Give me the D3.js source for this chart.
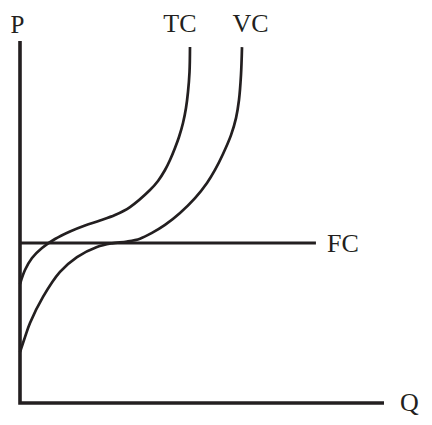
<!DOCTYPE html>
<html>
<head>
<meta charset="utf-8">
<script src="https://cdn.jsdelivr.net/npm/d3@7"></script>
<style>
  html, body { margin: 0; padding: 0; background: #fff; }
  svg { display: block; }
  text { font-family: "Liberation Serif", "DejaVu Serif", serif; fill: #231f20; }
</style>
</head>
<body>
<svg id="chart" width="432" height="425"></svg>
<script>
// ---- Data (quantity Q and price P in chart units, 0..100) ----
const TC_Q = [0, 1.37, 3.30, 6.04, 9.62, 13.74, 17.86, 21.98, 26.10, 30.22, 35.71, 37.91, 39.84, 41.21, 42.58, 43.68, 44.78, 45.60, 46.15, 46.57, 46.70];
const TC_P = [32.87, 36.74, 40.06, 42.82, 45.30, 47.38, 49.03, 50.41, 51.93, 54.14, 58.84, 61.33, 64.36, 67.13, 70.44, 73.48, 77.35, 81.49, 85.91, 91.44, 98.34];
const VC_Q = [0, 1.37, 2.75, 6.32, 10.99, 15.66, 21.15, 25.27, 29.40, 32.97, 36.26, 39.84, 43.96, 48.08, 51.37, 53.57, 55.77, 57.97, 59.34, 60.16, 60.71, 60.99];
const VC_P = [14.1, 18.2, 22.1, 29.3, 36.2, 40.3, 43.1, 44.1, 44.6, 45.4, 47.0, 49.2, 52.5, 56.6, 60.8, 64.4, 68.8, 74.0, 78.7, 83.7, 90.6, 98.3];
const FC_Q = [0, 81.3];
const FC_P = [44.2, 44.2];
const seriesNames = ["TC", "VC", "FC"];
const axisLabels = ["P", "Q"];

// ---- Layout ----
const ink = "#231f20";
const svg = d3.select("#chart");
const x = d3.scaleLinear().domain([0, 100]).range([20, 384]);
const y = d3.scaleLinear().domain([0, 100]).range([403, 41]);

const toPts = (qs, ps) => qs.map((q, i) => [q, ps[i]]);
const line = d3.line()
  .x(d => x(d[0]))
  .y(d => y(d[1]))
  .curve(d3.curveCatmullRom.alpha(0.5));

// Fixed cost line
svg.append("path")
  .attr("d", d3.line().x(d => x(d[0])).y(d => y(d[1]))(toPts(FC_Q, FC_P)))
  .attr("fill", "none").attr("stroke", ink).attr("stroke-width", 3);

// TC and VC curves
[toPts(TC_Q, TC_P), toPts(VC_Q, VC_P)].forEach(pts => {
  svg.append("path")
    .attr("d", line(pts))
    .attr("fill", "none")
    .attr("stroke", ink)
    .attr("stroke-width", 2.7)
    .attr("stroke-linecap", "butt");
});

// Axes (plain lines, no ticks)
svg.append("path")
  .attr("d", `M${x(0)},${y(100)}V${y(0)}H${x(100)}`)
  .attr("fill", "none").attr("stroke", ink).attr("stroke-width", 3.6)
  .attr("stroke-linejoin", "miter");

// Labels
svg.append("text").attr("x", 17.5).attr("y", 33).attr("text-anchor", "middle")
  .attr("font-size", 25).text(axisLabels[0]);
svg.append("text").attr("x", 400).attr("y", 411).attr("text-anchor", "start")
  .attr("font-size", 26).text(axisLabels[1]);
svg.append("text").attr("x", x(TC_Q[TC_Q.length - 1]) - 10).attr("y", 32).attr("text-anchor", "middle")
  .attr("font-size", 26).text(seriesNames[0]);
svg.append("text").attr("x", x(VC_Q[VC_Q.length - 1]) + 8.5).attr("y", 32).attr("text-anchor", "middle")
  .attr("font-size", 26).text(seriesNames[1]);
svg.append("text").attr("x", x(FC_Q[1]) + 11).attr("y", 252).attr("text-anchor", "start")
  .attr("font-size", 26).text(seriesNames[2]);
</script>
</body>
</html>
